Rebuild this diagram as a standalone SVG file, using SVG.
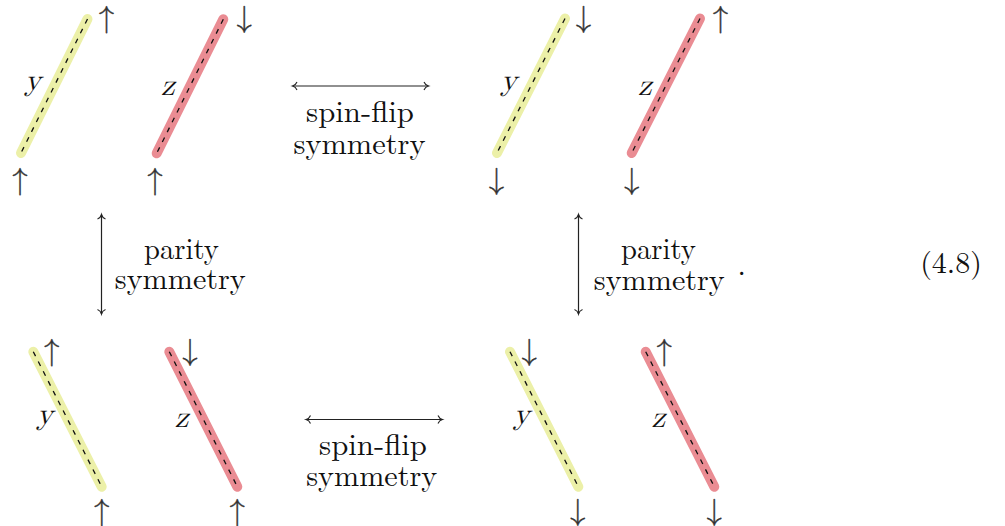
<svg xmlns="http://www.w3.org/2000/svg" width="1005" height="526" viewBox="0 0 1005 526">
<style>
.by{stroke:#ecf0a8;stroke-width:10;stroke-linecap:round;fill:none}
.bz{stroke:#ea8c93;stroke-width:10;stroke-linecap:round;fill:none}
.dash{stroke:#111;stroke-width:1.3;stroke-dasharray:5 6;fill:none}
.lbl{font-family:'Latin Modern Math','Latin Modern Roman','Liberation Serif','DejaVu Serif',serif;font-style:italic;font-size:31px;text-anchor:middle;fill:#111}
.arr{font-family:'Latin Modern Math','DejaVu Serif','DejaVu Sans',serif;font-size:31px;text-anchor:middle;fill:#333;stroke:#333;stroke-width:0.35}
.txt{font-family:'Latin Modern Roman','Liberation Serif','DejaVu Serif',serif;font-size:30px;text-anchor:middle;fill:#111}
.con{stroke:#222;stroke-width:1.2;fill:none;marker-start:url(#ah);marker-end:url(#ah)}
</style>
<defs>
<marker id="ah" viewBox="-6 -5 7 10" refX="0" refY="0" markerWidth="7" markerHeight="10" markerUnits="userSpaceOnUse" orient="auto-start-reverse" overflow="visible">
<path d="M-4.5,-4 C-3.5,-1.5 -1.5,-0.4 0,0 C-1.5,0.4 -3.5,1.5 -4.5,4" fill="none" stroke="#222" stroke-width="1.1"/>
</marker>
</defs>
<rect width="1005" height="526" fill="#fff"/>

<g id="config-top-left">
<line class="by" x1="87.5" y1="19" x2="21" y2="153"/>
<line class="dash" x1="87.5" y1="19" x2="21" y2="153"/>
<line class="bz" x1="223.3" y1="19.3" x2="156.7" y2="153.3"/>
<line class="dash" x1="223.3" y1="19.3" x2="156.7" y2="153.3"/>
<text class="lbl" x="33" y="89.5">y</text>
<text class="lbl" x="168" y="95">z</text>
<text class="arr" x="106.5" y="26.5">↑</text>
<text class="arr" x="20" y="188.5">↑</text>
<text class="arr" x="244.3" y="26.5">↓</text>
<text class="arr" x="155" y="188.5">↑</text>
</g>

<g id="config-top-right">
<line class="by" x1="565" y1="18.5" x2="497" y2="153"/>
<line class="dash" x1="565" y1="18.5" x2="497" y2="153"/>
<line class="bz" x1="700" y1="18.5" x2="631.7" y2="153"/>
<line class="dash" x1="700" y1="18.5" x2="631.7" y2="153"/>
<text class="lbl" x="509" y="89.5">y</text>
<text class="lbl" x="645" y="95">z</text>
<text class="arr" x="583.5" y="26.5">↓</text>
<text class="arr" x="496.5" y="188.5">↓</text>
<text class="arr" x="720.5" y="26.5">↑</text>
<text class="arr" x="631.7" y="188.5">↓</text>
</g>

<g id="config-bottom-left">
<line class="by" x1="33.3" y1="351.7" x2="101.7" y2="486.7"/>
<line class="dash" x1="33.3" y1="351.7" x2="101.7" y2="486.7"/>
<line class="bz" x1="169.3" y1="351.7" x2="237.3" y2="486.7"/>
<line class="dash" x1="169.3" y1="351.7" x2="237.3" y2="486.7"/>
<text class="lbl" x="45" y="423.5">y</text>
<text class="lbl" x="181.7" y="426.7">z</text>
<text class="arr" x="51.7" y="359.5">↑</text>
<text class="arr" x="101.7" y="519.5">↑</text>
<text class="arr" x="190" y="359.5">↓</text>
<text class="arr" x="237.3" y="519.5">↑</text>
</g>

<g id="config-bottom-right">
<line class="by" x1="510" y1="351.7" x2="578.3" y2="486.7"/>
<line class="dash" x1="510" y1="351.7" x2="578.3" y2="486.7"/>
<line class="bz" x1="645.7" y1="351.7" x2="714.3" y2="486.7"/>
<line class="dash" x1="645.7" y1="351.7" x2="714.3" y2="486.7"/>
<text class="lbl" x="521.7" y="423.5">y</text>
<text class="lbl" x="658.3" y="426.7">z</text>
<text class="arr" x="529.3" y="359.5">↓</text>
<text class="arr" x="577.7" y="519.5">↓</text>
<text class="arr" x="664.3" y="359.5">↑</text>
<text class="arr" x="714.3" y="519.5">↓</text>
</g>

<g id="connectors">
<line class="con" x1="292.5" y1="86" x2="428.5" y2="86"/>
<line class="con" x1="306" y1="419.5" x2="442.5" y2="419.5"/>
<line class="con" x1="101.5" y1="214.5" x2="101.5" y2="314"/>
<line class="con" x1="578.5" y1="214.5" x2="578.5" y2="314"/>
</g>

<g id="label-spinflip-top">
<text class="txt" x="360" y="122" textLength="108" lengthAdjust="spacingAndGlyphs">spin-flip</text>
<text class="txt" x="359.5" y="153.5" textLength="132" lengthAdjust="spacingAndGlyphs">symmetry</text>
</g>
<g id="label-spinflip-bottom">
<text class="txt" x="373" y="455" textLength="108" lengthAdjust="spacingAndGlyphs">spin-flip</text>
<text class="txt" x="371.7" y="486" textLength="131" lengthAdjust="spacingAndGlyphs">symmetry</text>
</g>
<g id="label-parity-left">
<text class="txt" x="181.5" y="258.5" textLength="75" lengthAdjust="spacingAndGlyphs">parity</text>
<text class="txt" x="180.3" y="289" textLength="131" lengthAdjust="spacingAndGlyphs">symmetry</text>
</g>
<g id="label-parity-right">
<text class="txt" x="658.5" y="258.5" textLength="75" lengthAdjust="spacingAndGlyphs">parity</text>
<text class="txt" x="659.3" y="290" textLength="131" lengthAdjust="spacingAndGlyphs">symmetry</text>
<text class="txt" x="741.7" y="275">.</text>
</g>
<g id="equation-number">
<text class="txt" x="951" y="273">(4.8)</text>
</g>
</svg>
